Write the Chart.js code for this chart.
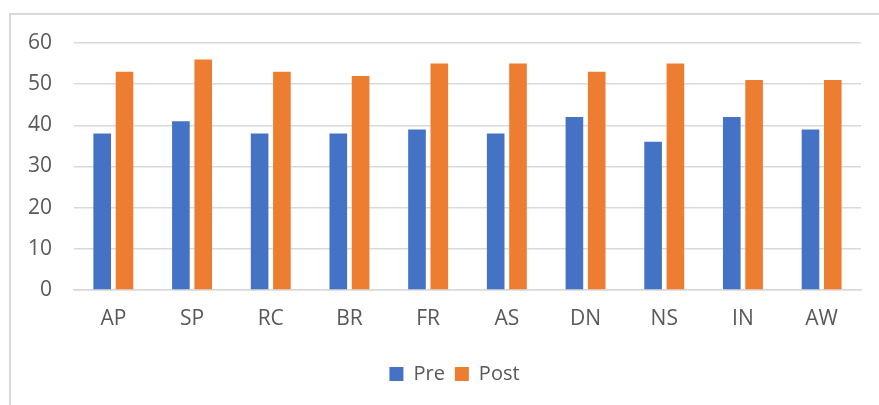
<!DOCTYPE html>
<html>
<head>
<meta charset="utf-8">
<script src="https://cdn.jsdelivr.net/npm/chart.js@4"></script>
<style>
  html, body { margin: 0; padding: 0; background: #fff; overflow: hidden; }
  #wrap { position: relative; width: 879px; height: 405px; }
  #frame { position: absolute; left: 9px; top: 13px; width: 1000px; height: 1000px;
           border: 2px solid #d9d9d9; box-sizing: border-box; }
  canvas { position: absolute; left: 0; top: 0; }
</style>
</head>
<body>
<div id="wrap">
  <div id="frame"></div>
  <canvas id="chart" width="879" height="405"></canvas>
</div>
<script>
const categories = ['AP', 'SP', 'RC', 'BR', 'FR', 'AS', 'DN', 'NS', 'IN', 'AW'];
const preValues  = [38, 41, 38, 38, 39, 38, 42, 36, 42, 39];
const postValues = [53, 56, 53, 52, 55, 55, 53, 55, 51, 51];
const yTicks = [0, 10, 20, 30, 40, 50, 60];

const textColor = '#595959';
const fontFamily = '"Open Sans", "Liberation Sans", sans-serif';

// The legend sits centred under the whole framed area rather than under the plot alone.
const legendOffset = {
  id: 'legendOffset',
  afterLayout(chart) {
    const lg = chart.legend;
    if (lg) { lg.left += 24; lg.right += 24; }
  }
};

new Chart(document.getElementById('chart'), {
  type: 'bar',
  data: {
    labels: categories,
    datasets: [
      { label: 'Pre',  data: preValues,  backgroundColor: '#4472C4',
        categoryPercentage: 0.567, barPercentage: 0.79 },
      { label: 'Post', data: postValues, backgroundColor: '#ED7D31',
        categoryPercentage: 0.567, barPercentage: 0.79 }
    ]
  },
  plugins: [legendOffset],
  options: {
    responsive: false,
    animation: false,
    layout: { padding: { top: 43, right: 18, bottom: 11, left: 0 } },
    plugins: {
      tooltip: { enabled: false },
      legend: {
        position: 'bottom',
        labels: {
          color: textColor,
          font: { family: fontFamily, size: 20 },
          boxWidth: 14, boxHeight: 14, padding: 10
        }
      }
    },
    scales: {
      x: {
        grid: { display: false, drawTicks: false },
        border: { display: true, color: '#d9d9d9', width: 1.5 },
        ticks: { color: textColor, font: { family: fontFamily, size: 21 }, padding: 16 },
        afterFit(scale) { scale.height = 64; }
      },
      y: {
        min: 0, max: 60,
        afterBuildTicks(scale) { scale.ticks = yTicks.map(v => ({ value: v })); },
        grid: { color: '#d9d9d9', lineWidth: 1.5, drawTicks: false },
        border: { display: false },
        ticks: { color: textColor, font: { family: fontFamily, size: 21 }, padding: 22 },
        afterFit(scale) { scale.width = 74; }
      }
    }
  }
});
</script>
</body>
</html>
